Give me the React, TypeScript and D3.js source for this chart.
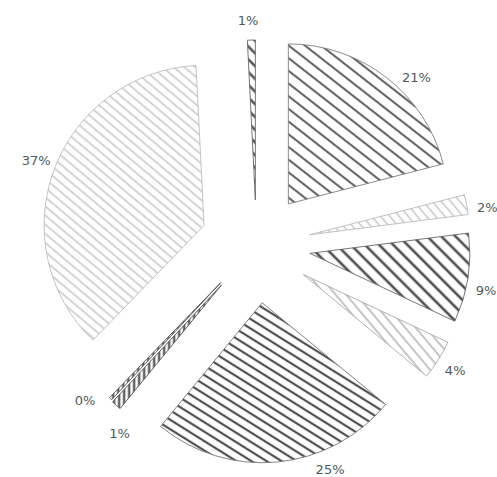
import React from "react";
import * as d3 from "d3";

// Slices clockwise from 12 o'clock
const categories = ["S1", "S2", "S3", "S4", "S5", "S6", "S7", "S8", "S9"];
const values = [21, 2, 9, 4, 25, 1, 0.3, 37, 0.8];

// style / layout (not data)
const explode = [52, 54, 54, 55, 58, 53, 52, 56, 45];
const labelShiftDeg = [7.6, 2, 3, 0, -16.6, -6.6, 5.4, 0.6, -0.9];
const patterns = [
  { angle: 38, spacing: 10, width: 2.1, color: "#666", outline: "#808080" },
  { angle: 50, spacing: 7, width: 1.4, color: "#c4c4c4", outline: "#bbb" },
  { angle: 45, spacing: 10, width: 2.6, color: "#4f4f4f", outline: "#666" },
  { angle: 50, spacing: 8, width: 1.6, color: "#b8b8b8", outline: "#aaa" },
  { angle: 32, spacing: 8, width: 2.2, color: "#505050", outline: "#777" },
  { angle: 90, spacing: 5, width: 2, color: "#3a3a3a", outline: "#555" },
  { angle: 90, spacing: 5, width: 2, color: "#3a3a3a", outline: "#555" },
  { angle: 40, spacing: 7, width: 1.5, color: "#c6c6c6", outline: "#bdbdbd" },
  { angle: 45, spacing: 9, width: 2.4, color: "#4a4a4a", outline: "#666" },
];

const W = 497;
const H = 477;
const CX = 256.5;
const CY = 245;
const R = 160;
const LABEL_DIST = 180;

export default function App() {
  const total = d3.sum(values);
  const pie = d3.pie<number>().sort(null).value((d) => d)(values);
  const arc = d3.arc<d3.PieArcDatum<number>>().innerRadius(0).outerRadius(R);
  const fmt = d3.format(".0%");

  return (
    <svg
      width={W}
      height={H}
      style={{ position: "absolute", left: 0, top: 0, background: "#fff" }}
    >
      <defs>
        {patterns.map((p, i) => (
          <pattern
            key={i}
            id={`pat${i}`}
            patternUnits="userSpaceOnUse"
            width={p.spacing}
            height={p.spacing}
            patternTransform={`rotate(${p.angle})`}
          >
            <rect width={p.spacing} height={p.spacing} fill="#fff" />
            <line
              x1={-1}
              x2={p.spacing + 1}
              y1={p.spacing / 2}
              y2={p.spacing / 2}
              stroke={p.color}
              strokeWidth={p.width}
            />
          </pattern>
        ))}
      </defs>
      <g transform={`translate(${CX},${CY})`}>
        {pie.map((a, i) => {
          const mid = (a.startAngle + a.endAngle) / 2;
          const ox = explode[i] * Math.sin(mid);
          const oy = -explode[i] * Math.cos(mid);
          return (
            <path
              key={categories[i]}
              transform={`translate(${ox},${oy})`}
              d={arc(a) || ""}
              fill={`url(#pat${i})`}
              stroke={patterns[i].outline}
              strokeWidth={0.9}
            />
          );
        })}
        {pie.map((a, i) => {
          const mid = (a.startAngle + a.endAngle) / 2;
          const ox = explode[i] * Math.sin(mid);
          const oy = -explode[i] * Math.cos(mid);
          const la = mid + (labelShiftDeg[i] * Math.PI) / 180;
          const lx = ox + LABEL_DIST * Math.sin(la);
          const ly = oy - LABEL_DIST * Math.cos(la);
          return (
            <text
              key={"l" + i}
              x={lx}
              y={ly}
              textAnchor="middle"
              dominantBaseline="central"
              fontFamily="'DejaVu Sans', sans-serif"
              fontSize={13}
              fill="#4f5a5a"
            >
              {fmt(values[i] / total)}
            </text>
          );
        })}
      </g>
    </svg>
  );
}
